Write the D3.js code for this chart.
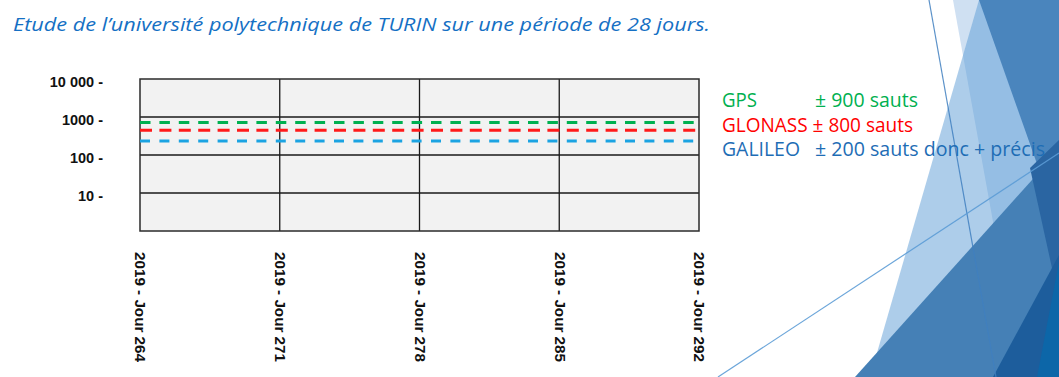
<!DOCTYPE html>
<html>
<head>
<meta charset="utf-8">
<script src="https://cdn.jsdelivr.net/npm/d3@7"></script>
<style>
  html, body { margin: 0; padding: 0; background: #ffffff; }
  svg { display: block; }
</style>
</head>
<body>
<svg id="chart" width="1059" height="377"></svg>
<script>
// ---- data ----
const days = [264, 271, 278, 285, 292];
const yTickValues = [10, 100, 1000, 10000];
const systems = ["GPS", "GLONASS", "GALILEO"];
const jumpLevels = [720, 450, 235];          // level of each dashed line (log scale)
const jumpCounts = [900, 800, 200];          // counts quoted in the side notes
const noteSuffix = ["", "", " donc + précis"];
const titleText = "Etude de l\u2019université polytechnique de TURIN sur une période de 28 jours.";

// ---- styles ----
const lineColors = ["#00b050", "#ff1a1a", "#1ba3e2"];
const textColors = ["#00b050", "#ff0000", "#1e6db5"];
const dashes = ["10.5 8.9", "12 7.4", "10 9.4"];

const svg = d3.select("#chart");

// ---- background facets ----
const deco = svg.append("g");
const facets = [
  { pts: [[953,0],[1059,0],[1059,377],[1021,377]], fill: "#cfe0f2", op: 1 },
  { pts: [[979,0],[1059,0],[1059,377],[870,377]], fill: "#5b9bd5", op: 0.5 },
  { pts: [[979,0],[1059,0],[1059,226]], fill: "#4a85bd", op: 1 },
  { pts: [[855,377],[1059,150],[1059,377]], fill: "#4580b6", op: 1 },
  { pts: [[1030,168],[1059,140],[1059,300]], fill: "#2a65a2", op: 1 },
  { pts: [[993,377],[1059,255],[1059,377]], fill: "#1d5d9c", op: 1 },
  { pts: [[1037,377],[1059,262],[1059,377]], fill: "#0c66a8", op: 1 }
];
deco.selectAll("polygon").data(facets).join("polygon")
  .attr("points", d => d.pts.map(p => p.join(",")).join(" "))
  .attr("fill", d => d.fill)
  .attr("fill-opacity", d => d.op);
deco.append("line").attr("x1", 929).attr("y1", 0).attr("x2", 996).attr("y2", 377)
  .attr("stroke", "#3f7fc0").attr("stroke-width", 1.2).attr("stroke-opacity", 0.85);
deco.append("line").attr("x1", 718).attr("y1", 377).attr("x2", 1059).attr("y2", 153)
  .attr("stroke", "#5b9bd5").attr("stroke-width", 1.2).attr("stroke-opacity", 0.9);

// ---- title ----
svg.append("text")
  .attr("x", 13).attr("y", 31)
  .attr("font-family", "'Open Sans', 'DejaVu Sans', sans-serif")
  .attr("font-style", "italic")
  .attr("font-weight", 500)
  .attr("font-size", 18.5)
  .attr("fill", "#1570c4")
  .attr("textLength", 697).attr("lengthAdjust", "spacingAndGlyphs")
  .text(titleText);

// ---- scales ----
const x = d3.scaleLinear().domain([days[0], days[days.length - 1]]).range([140, 699]);
const y = d3.scaleLog().domain([1, 10000]).range([231, 79]);

// ---- plot area ----
const plot = svg.append("g");
plot.append("rect")
  .attr("x", x.range()[0]).attr("y", y.range()[1])
  .attr("width", x.range()[1] - x.range()[0])
  .attr("height", y.range()[0] - y.range()[1])
  .attr("fill", "#f2f2f2");

// horizontal grid
plot.selectAll("line.hgrid").data(yTickValues.filter(v => v < 10000)).join("line")
  .attr("class", "hgrid")
  .attr("x1", x.range()[0]).attr("x2", x.range()[1])
  .attr("y1", d => y(d)).attr("y2", d => y(d))
  .attr("stroke", "#1a1a1a").attr("stroke-width", 1.3);

// vertical grid
plot.selectAll("line.vgrid").data(days.slice(1, -1)).join("line")
  .attr("class", "vgrid")
  .attr("x1", d => x(d)).attr("x2", d => x(d))
  .attr("y1", y.range()[1]).attr("y2", y.range()[0])
  .attr("stroke", "#1a1a1a").attr("stroke-width", 1.3);

// frame
plot.append("rect")
  .attr("x", x.range()[0]).attr("y", y.range()[1])
  .attr("width", x.range()[1] - x.range()[0])
  .attr("height", y.range()[0] - y.range()[1])
  .attr("fill", "none").attr("stroke", "#2b2b2b").attr("stroke-width", 1.5);

// dashed level lines
const lineGen = d3.line().x(d => x(d[0])).y(d => y(d[1]));
systems.forEach((s, i) => {
  plot.append("path")
    .datum([[days[0], jumpLevels[i]], [days[days.length - 1], jumpLevels[i]]])
    .attr("d", lineGen)
    .attr("fill", "none")
    .attr("stroke", lineColors[i])
    .attr("stroke-width", 3)
    .attr("stroke-dasharray", dashes[i]);
});

// ---- axes ----
const fmtY = d => (d === 10000 ? "10 000" : String(d)) + " -";
const yAxis = svg.append("g")
  .attr("transform", `translate(${x.range()[0]},0)`)
  .call(d3.axisLeft(y).tickValues(yTickValues).tickSize(0).tickPadding(37).tickFormat(fmtY));
yAxis.select(".domain").remove();
yAxis.selectAll("text")
  .attr("font-family", "'Liberation Sans', Arial, sans-serif")
  .attr("font-size", 14.5)
  .attr("font-weight", "bold")
  .attr("fill", "#111")
  .attr("dy", "0.5em");

const xAxis = svg.append("g")
  .attr("transform", `translate(0,${y.range()[0]})`)
  .call(d3.axisBottom(x).tickValues(days).tickSize(0).tickFormat(d => "2019 - Jour " + d));
xAxis.select(".domain").remove();
xAxis.selectAll("text")
  .attr("font-family", "'Liberation Sans', Arial, sans-serif")
  .attr("font-size", 15)
  .attr("font-weight", "bold")
  .attr("fill", "#111")
  .attr("text-anchor", "start")
  .attr("transform", "rotate(90)")
  .attr("x", 21).attr("y", 0).attr("dy", "0.35em")
  .attr("textLength", 110).attr("lengthAdjust", "spacingAndGlyphs");

// ---- side notes ----
const notes = svg.append("g")
  .attr("font-family", "'Open Sans', 'DejaVu Sans', sans-serif")
  .attr("font-weight", 500)
  .attr("font-size", 19.5);
const noteRows = [106.5, 131.5, 156];
const nameWidths = [35, null, 78];
const countWidths = [103, null, 230];
systems.forEach((s, i) => {
  const countText = "± " + jumpCounts[i] + " sauts" + noteSuffix[i];
  if (i === 1) {
    notes.append("text").attr("x", 722).attr("y", noteRows[i])
      .attr("fill", textColors[i])
      .attr("textLength", 191).attr("lengthAdjust", "spacingAndGlyphs")
      .text(s + " " + countText);
  } else {
    notes.append("text").attr("x", 722).attr("y", noteRows[i])
      .attr("fill", textColors[i])
      .attr("textLength", nameWidths[i]).attr("lengthAdjust", "spacingAndGlyphs")
      .text(s);
    notes.append("text").attr("x", 815).attr("y", noteRows[i])
      .attr("fill", textColors[i])
      .attr("textLength", countWidths[i]).attr("lengthAdjust", "spacingAndGlyphs")
      .text(countText);
  }
});
</script>
</body>
</html>
